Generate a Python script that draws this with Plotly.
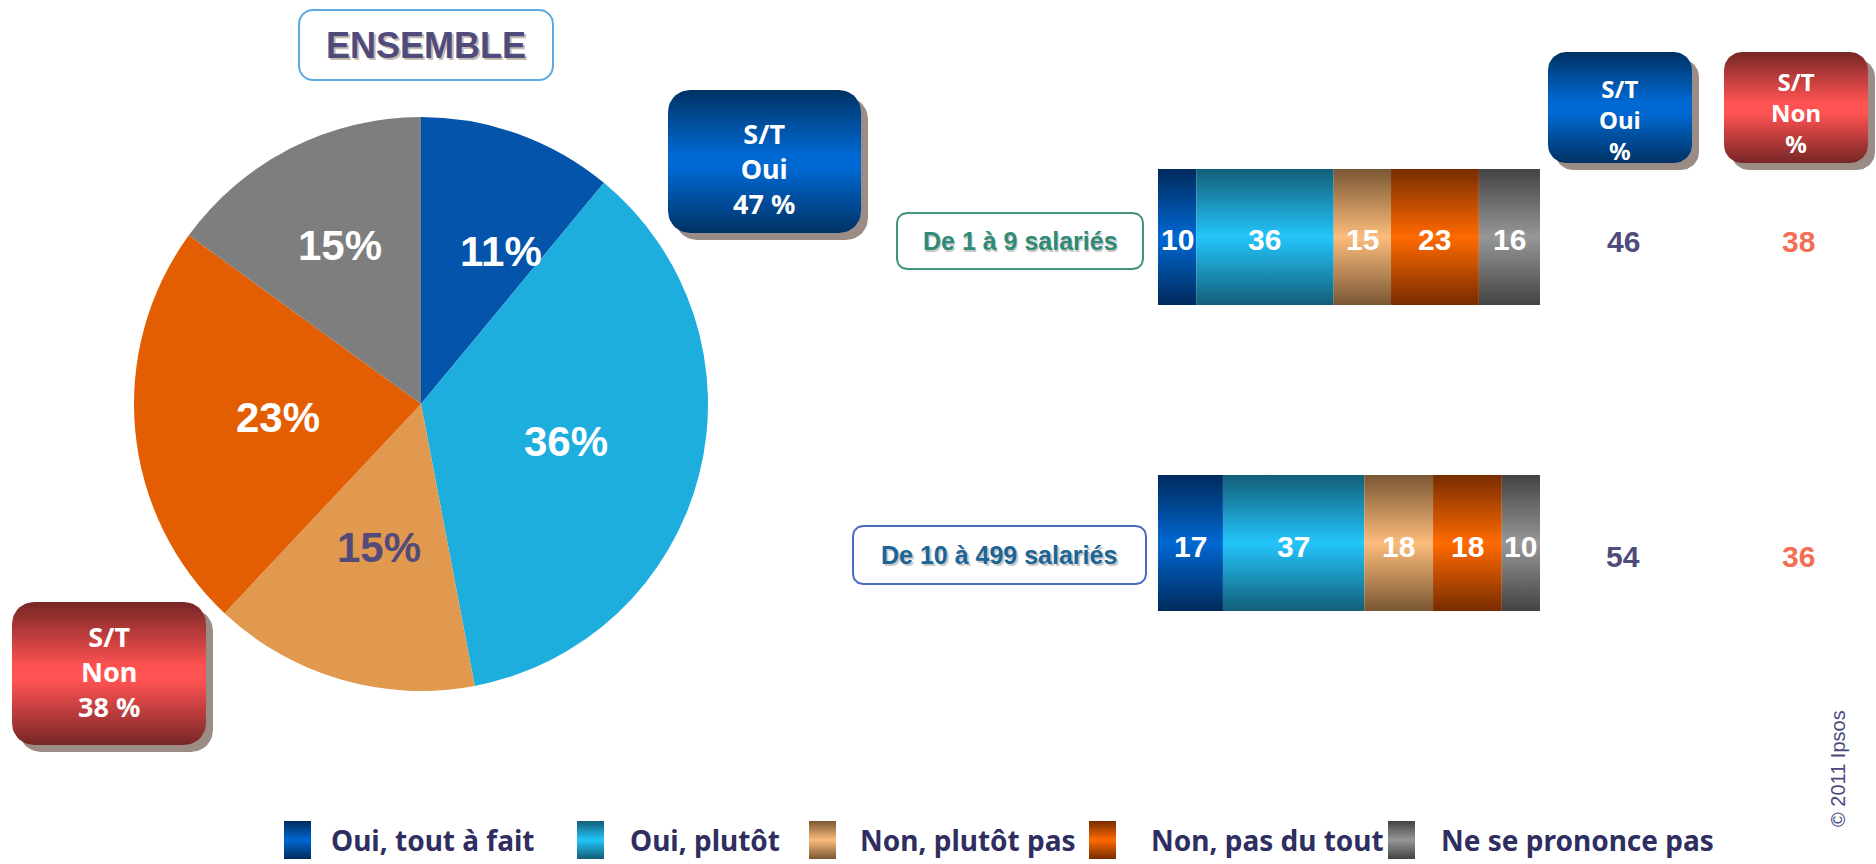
import numpy as np
import plotly.graph_objects as go

# ---- data ----
categories = ["Oui, tout à fait", "Oui, plutôt", "Non, plutôt pas", "Non, pas du tout", "Ne se prononce pas"]
ensemble = [11, 36, 15, 23, 15]
ensemble_st_oui = 47
ensemble_st_non = 38

rows = ["De 1 à 9 salariés", "De 10 à 499 salariés"]
de_1_a_9 = [10, 36, 15, 23, 16]
de_10_a_499 = [17, 37, 18, 18, 10]
st_oui = [46, 54]
st_non = [38, 36]

# ---- styles ----
W, H = 1876, 864
dark = ["#002a5c", "#135e78", "#7a5734", "#782c00", "#434343"]
mid = ["#0068d2", "#23c5fb", "#fcbc7c", "#ff6a00", "#979797"]
pie_colors = ["#0454ab", "#1eaedd", "#e0994f", "#e35d02", "#7e7e7e"]
pie_text_colors = ["white", "white", "#544a7a", "white", "white"]
pie_label_r = [0.6, 0.52, 0.52, 0.5, 0.62]
pie_label_dang = [8, 0, 0, 0, 0]
BAR_HALF = 0.222


def grad(i):
    return [[0, dark[i]], [0.5, mid[i]], [1, dark[i]]]


def rounded(x0, y0, x1, y1, r, n=12):
    xs, ys = [], []
    for cx, cy, a0 in [(x1 - r, y0 + r, -90), (x1 - r, y1 - r, 0), (x0 + r, y1 - r, 90), (x0 + r, y0 + r, 180)]:
        for a in np.linspace(a0, a0 + 90, n):
            xs.append(cx + r * np.cos(np.radians(a)))
            ys.append(cy + r * np.sin(np.radians(a)))
    xs.append(xs[0])
    ys.append(ys[0])
    return xs, ys


fig = go.Figure()
ann = []


def txt(x, y, s, size, color, family="Liberation Sans", bold=True, xref="x3", yref="y3", **kw):
    ann.append(dict(x=x, y=y, text=s, xref=xref, yref=yref, showarrow=False,
                    font=dict(family=family, size=size, color=color, weight="bold" if bold else "normal"), **kw))


# pie "ENSEMBLE"
cx, cy, rad = 421, 404, 287
fig.add_trace(go.Pie(
    values=ensemble, labels=categories, sort=False, direction="clockwise", rotation=0,
    marker=dict(colors=pie_colors, line=dict(width=0)),
    textinfo="none", hoverinfo="skip", showlegend=False,
    domain=dict(x=[(cx - rad) / W, (cx + rad) / W], y=[1 - (cy + rad) / H, 1 - (cy - rad) / H]),
))
# slice labels near the middle angle of each slice
total = sum(ensemble)
cum = 0
for i, v in enumerate(ensemble):
    ang = np.radians((cum + v / 2) / total * 360 + pie_label_dang[i])
    cum += v
    txt(cx + rad * pie_label_r[i] * np.sin(ang), cy - rad * pie_label_r[i] * np.cos(ang),
        f"{v}%", 42, pie_text_colors[i])

# stacked bars with vertical gradient
for ri, vals in enumerate([de_1_a_9, de_10_a_499]):
    base = 0
    for ci, v in enumerate(vals):
        x0, x1 = base, base + v
        y0, y1 = ri - BAR_HALF, ri + BAR_HALF
        fig.add_trace(go.Scatter(
            x=[x0, x1, x1, x0, x0], y=[y0, y0, y1, y1, y0], mode="lines",
            line=dict(width=0), fill="toself",
            fillgradient=dict(type="vertical", colorscale=grad(ci)),
            xaxis="x2", yaxis="y2", hoverinfo="skip", showlegend=False))
        txt(base + v / 2, ri, str(v), 30, "white", xref="x2", yref="y2", yshift=-3)
        base += v


# ---- decorations on a pixel canvas ----
def canvas_poly(xs, ys, **kw):
    fig.add_trace(go.Scatter(x=xs, y=ys, mode="lines", fill="toself", xaxis="x3", yaxis="y3",
                             hoverinfo="skip", showlegend=False, **kw))


def grad_box(x0, y0, x1, y1, r, cs, shadow=7):
    if shadow:
        xs, ys = rounded(x0 + shadow, y0 + shadow, x1 + shadow, y1 + shadow, r)
        canvas_poly(xs, ys, line=dict(width=0), fillcolor="#9b8c85")
    xs, ys = rounded(x0, y0, x1, y1, r)
    canvas_poly(xs, ys, line=dict(width=0), fillgradient=dict(type="vertical", colorscale=cs))


def outline_box(x0, y0, x1, y1, r, color):
    xs, ys = rounded(x0, y0, x1, y1, r)
    canvas_poly(xs, ys, line=dict(width=2, color=color), fillcolor="white")


blue_cs = [[0, "#003264"], [0.45, "#0068d2"], [0.55, "#0068d2"], [1, "#003264"]]
red_cs = [[0, "#762626"], [0.45, "#ff5252"], [0.55, "#ff5252"], [1, "#762626"]]

outline_box(299, 10, 553, 80, 14, "#5aaae2")
grad_box(668, 90, 861, 233, 22, blue_cs)
grad_box(12, 602, 206, 745, 22, red_cs)
grad_box(1548, 52, 1692, 163, 18, blue_cs)
grad_box(1724, 52, 1868, 163, 18, red_cs)
outline_box(897, 213, 1143, 269, 10, "#44927f")
outline_box(853, 526, 1146, 584, 10, "#4a6dc2")

# legend squares
leg_sq = [284, 577, 809, 1089, 1388]
leg_tx = [329, 628, 858, 1149, 1439]
for i, x in enumerate(leg_sq):
    canvas_poly([x, x + 27, x + 27, x, x], [821, 821, 859, 859, 821], line=dict(width=0),
                fillgradient=dict(type="vertical", colorscale=grad(i)))

txt(428, 47, "ENSEMBLE", 36, "#c9bab2")
txt(426, 45, "ENSEMBLE", 36, "#4f4b7b")

txt(764, 168, f"S/T<br>Oui<br>{ensemble_st_oui} %", 27, "white", family="Noto Sans")
txt(109, 671, f"S/T<br>Non<br>{ensemble_st_non} %", 27, "white", family="Noto Sans")
txt(1620, 119, "S/T<br>Oui<br>%", 24, "white", family="Noto Sans")
txt(1796, 112, "S/T<br>Non<br>%", 24, "white", family="Noto Sans")

# row labels
for (x, y), s, c in zip([(1020, 241), (999, 555)], rows, ["#2f8a76", "#1a6496"]):
    txt(x + 1.5, y + 1.5, s, 25, "#c8c8c8")
    txt(x, y, s, 25, c)

# S/T values per row
for y, o, n in zip([241, 556], st_oui, st_non):
    txt(1623, y, str(o), 30, "#4f4b7b")
    txt(1798, y, str(n), 30, "#f26e55")

for x, s in zip(leg_tx, categories):
    txt(x, 840, s, 28, "#2e2e60", family="Noto Sans", xanchor="left")

txt(1838, 769, "© 2011 Ipsos", 20, "#4a4a80", bold=False, textangle=-90)

fig.update_layout(
    width=W, height=H, margin=dict(l=0, r=0, t=0, b=0),
    paper_bgcolor="white", plot_bgcolor="rgba(0,0,0,0)", showlegend=False,
    xaxis2=dict(domain=[1158 / W, 1540 / W], range=[0, 100], visible=False, fixedrange=True, anchor="y2"),
    yaxis2=dict(domain=[1 - 611 / H, 1 - 169 / H], range=[1 + BAR_HALF, -BAR_HALF], visible=False,
                fixedrange=True, anchor="x2"),
    xaxis3=dict(domain=[0, 1], range=[0, W], visible=False, fixedrange=True, anchor="y3"),
    yaxis3=dict(domain=[0, 1], range=[H, 0], visible=False, fixedrange=True, anchor="x3"),
    annotations=ann,
)

fig.write_html("out.html", config={"displayModeBar": False},
               post_script="document.body.style.margin='0';")
